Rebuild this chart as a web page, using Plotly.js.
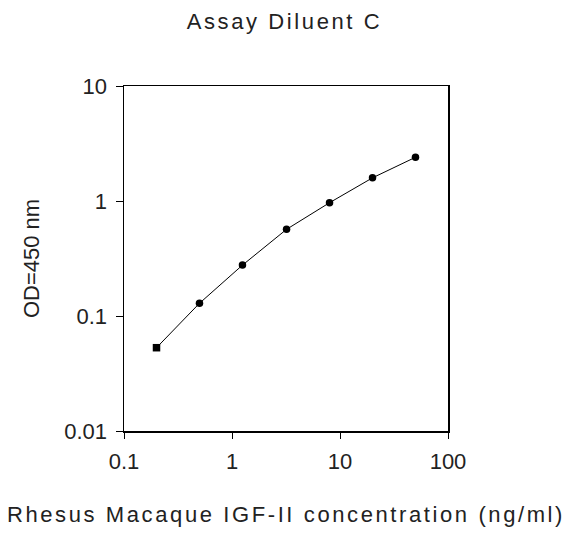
<!DOCTYPE html>
<html>
<head>
<meta charset="utf-8">
<script src="https://cdn.plot.ly/plotly-3.0.1.min.js"></script>
<style>
  html, body { margin: 0; padding: 0; background: #fff; }
  #chart { width: 569px; height: 537px; }
  .gtitle, .xtitle { letter-spacing: 2.6px; }
</style>
</head>
<body>
<div id="chart"></div>
<script>
// Data
const concentration = [0.2, 0.5, 1.25, 3.2, 8, 20, 50];      // ng/ml
const od450 = [0.053, 0.129, 0.277, 0.567, 0.966, 1.59, 2.40];
const xTickVals = [0.1, 1, 10, 100];
const xTickText = ['0.1', '1', '10', '100'];
const yTickVals = [0.01, 0.1, 1, 10];
const yTickText = ['0.01', '0.1', '1', '10'];
const markerSymbols = ['square', 'circle', 'circle', 'circle', 'circle', 'circle', 'circle'];

const font = 'Liberation Sans, Arial, sans-serif';

const trace = {
  x: concentration,
  y: od450,
  type: 'scatter',
  mode: 'lines+markers',
  line: { color: '#000', width: 1 },
  marker: { color: '#000', size: 7.5, symbol: markerSymbols },
  hoverinfo: 'x+y'
};

const layout = {
  width: 569,
  height: 537,
  margin: { l: 124, r: 121, t: 86, b: 106 },
  paper_bgcolor: '#fff',
  plot_bgcolor: '#fff',
  showlegend: false,
  font: { family: font, color: '#222', size: 22 },
  title: {
    text: 'Assay Diluent C',
    font: { family: font, size: 22, color: '#222' },
    x: 0.5, xanchor: 'center',
    y: 0.96, yanchor: 'middle', yref: 'container'
  },
  xaxis: {
    type: 'log',
    range: [-1, 2],
    tickvals: xTickVals,
    ticktext: xTickText,
    ticks: 'outside',
    ticklen: 6,
    tickwidth: 1,
    tickcolor: '#000',
    ticklabelstandoff: 4,
    showline: true,
    linecolor: '#000',
    linewidth: 1.5,
    mirror: true,
    showgrid: false,
    zeroline: false,
    tickfont: { family: font, size: 22, color: '#222' },
    title: {
      text: 'Rhesus Macaque IGF-II concentration (ng/ml)',
      font: { family: font, size: 22, color: '#222' },
      standoff: 33
    },
    automargin: false
  },
  yaxis: {
    type: 'log',
    range: [-2, 1],
    tickvals: yTickVals,
    ticktext: yTickText,
    ticks: 'outside',
    ticklen: 7,
    tickwidth: 1,
    tickcolor: '#000',
    ticklabelstandoff: 4,
    showline: true,
    linecolor: '#000',
    linewidth: 1.5,
    mirror: true,
    showgrid: false,
    zeroline: false,
    tickfont: { family: font, size: 22, color: '#222' },
    title: {
      text: 'OD=450 nm',
      font: { family: font, size: 22, color: '#222' },
      standoff: 18
    },
    automargin: false
  }
};

Plotly.newPlot('chart', [trace], layout, { displayModeBar: false, staticPlot: true });
</script>
</body>
</html>
